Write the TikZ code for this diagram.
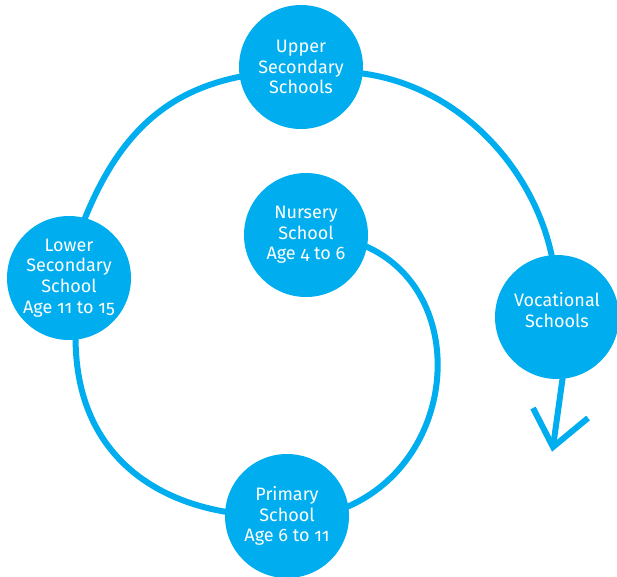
\documentclass[tikz,border=0pt]{standalone}
\usepackage{fontspec}
\setmainfont{Fira Sans}
\usetikzlibrary{backgrounds}

\definecolor{schoolblue}{RGB}{0,174,239}
\newcommand{\agetext}[1]{{\addfontfeature{Numbers=OldStyle}#1}}

\tikzset{
school/.style={circle, fill=schoolblue, text=white, minimum size=93pt, inner sep=0pt, align=center, font=\fontsize{13.5}{15.5}\selectfont},
link/.style={draw=schoolblue, line width=4.5pt, shorten <=-3pt, shorten >=-3pt}}
\tikzset{every picture/.style={line width=0.75pt}}

\begin{document}
\begin{tikzpicture}[x=0.75pt,y=0.75pt,yscale=-1,xscale=1]
\useasboundingbox (0,0) rectangle (617,576);

% Schools
\node[school] (upper) at (301,67) {Upper\\Secondary\\Schools};
\node[school] (nursery) at (306,235) {Nursery\\School\\\agetext{Age 4 to 6}};
\node[school] (lower) at (69,278) {Lower\\Secondary\\School\\\agetext{Age 11 to 15}};
\node[school] (primary) at (287,516) {Primary\\School\\\agetext{Age 6 to 11}};
\node[school] (voc) at (557,317) {Vocational\\Schools\\[-5pt]\mbox{}};

% arrow end
\coordinate (tip) at (553,447);
\coordinate (armL) at (533,408);
\coordinate (armR) at (588,418);

\begin{scope}[on background layer]
%Curve Lines: nursery -> primary
\draw[link] (nursery.349) .. controls (470,290) and (460,460) .. (primary.9);
%Curve Lines: primary -> lower
\draw[link] (primary.176) .. controls (150,500) and (75,450) .. (lower.276);
%Curve Lines: lower -> upper
\draw[link] (lower.75) .. controls (120,130) and (170,90) .. (upper.189);
%Curve Lines: upper -> vocational
\draw[link] (upper.354) .. controls (460,85) and (535,170) .. (voc.95);
%Arrow
\draw[link, shorten >=0pt] (voc.275) -- (tip);
\end{scope}
\draw[draw=schoolblue, line width=4.5pt, line join=miter] (armL) -- (tip) -- (armR);

\end{tikzpicture}
\end{document}
